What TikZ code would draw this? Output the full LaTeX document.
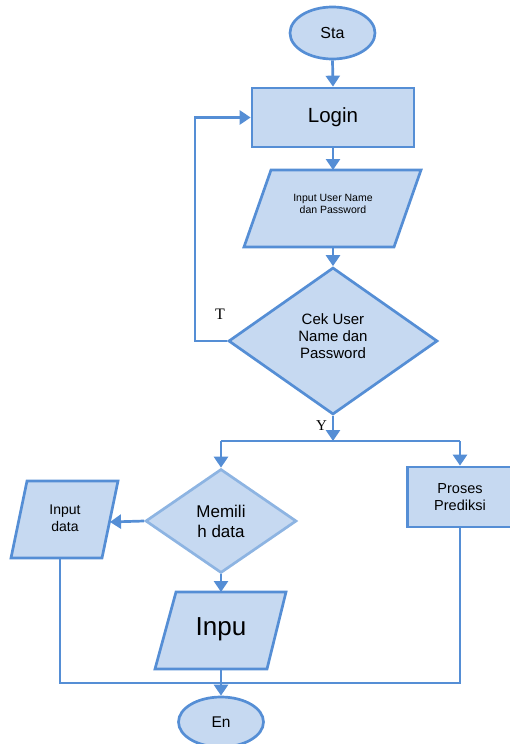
\documentclass[tikz,border=0pt]{standalone}
\usepackage{fontspec}
\setmainfont{Liberation Sans}
\newfontfamily\seriffont{Liberation Serif}
\usetikzlibrary{shapes.geometric,arrows.meta}
\definecolor{edgeblue}{RGB}{85,142,213}
\definecolor{fillblue}{RGB}{198,217,241}
\definecolor{lightedge}{RGB}{141,180,226}
\begin{document}
\begin{tikzpicture}[x=1pt,y=-1pt,
  shapebox/.style={draw=edgeblue,fill=fillblue,line width=2.7pt},
  conn/.style={draw=edgeblue,line width=2.7pt},
  arr/.style={conn,-{Triangle[length=11pt,width=14pt]}},
  txt/.style={align=center,inner sep=0pt,text=black}]
\useasboundingbox (0,0) rectangle (509,744);

% Start
\node[shapebox,ellipse,minimum width=85pt,minimum height=52pt,inner sep=0pt,
  font=\fontsize{16}{19}\selectfont] (sta) at (332.5,33) {Sta};
% Login
\node[shapebox,rectangle,minimum width=162pt,minimum height=59pt,inner sep=0pt,
  font=\fontsize{20.5}{24}\selectfont] (login) at (333,117.5) {Login};
% Input user name parallelogram
\draw[shapebox] (271,170) -- (421,170) -- (394,247) -- (244,247) -- cycle;
\coordinate (pwtop) at (333,170);
\coordinate (pwbot) at (333,247);
\node[txt,font=\fontsize{10.5}{12.5}\selectfont] (pwt) at (333,204) {Input User Name\\dan Password};
% Decision cek
\node[shapebox,diamond,minimum width=209pt,minimum height=147pt,inner sep=0pt] (cek) at (333,341) {};
\node[txt,font=\fontsize{15}{17}\selectfont] (cekt) at (333,336) {Cek User\\Name dan\\Password};
% Memilih data
\node[draw=lightedge,fill=fillblue,line width=2.7pt,diamond,minimum width=151pt,minimum height=104pt,
  inner sep=0pt,align=center,font=\fontsize{17}{20}\selectfont] (mem) at (221,521) {Memili\\h data};
% Proses prediksi
\node[shapebox,rectangle,minimum width=105pt,minimum height=60pt,inner sep=0pt,align=center,
  font=\fontsize{14.5}{16.5}\selectfont] (pro) at (460,497) {Proses\\Prediksi};
% Input data parallelogram
\draw[shapebox] (27,481) -- (118,481) -- (102,558) -- (11,558) -- cycle;
\coordinate (idright) at (110,522);
\coordinate (idbot) at (60,558);
\node[txt,font=\fontsize{14}{17}\selectfont] (idt) at (65,518) {Input\\data};
% Inpu parallelogram
\draw[shapebox] (176,592) -- (286,592) -- (267,669) -- (155,669) -- cycle;
\coordinate (inputop) at (221,592);
\coordinate (inpubot) at (221,669);
\node[txt,font=\fontsize{26}{30}\selectfont] (inpt) at (221,629) {Inpu};
% End
\node[shapebox,ellipse,minimum width=85pt,minimum height=50pt,inner sep=0pt,
  font=\fontsize{15.5}{18}\selectfont] (en) at (221,722) {En};

% Labels
\node[inner sep=0pt,font=\seriffont\fontsize{16}{19}\selectfont] (tl) at (220,314.5) {T};
\node[inner sep=0pt,font=\seriffont\fontsize{15}{18}\selectfont] (yl) at (321.5,425.5) {Y};

% Connectors
\coordinate (loopx) at (195,230);
\coordinate (jn) at (333,441);
\coordinate (jl) at (221,441);
\coordinate (jr) at (460,441);
\coordinate (bl) at (60,683);

\draw[arr] (sta.south) -- (login.north);
\draw[arr] (login.south) -- (pwtop);
\draw[arr] (pwbot) -- (cek.north);
\draw[arr] (cek.west) -| (loopx) |- (login.west);
\draw[arr] (cek.south) -- (jn);
\draw[conn] (jl) -- (jr);
\draw[arr] (jl) -- (mem.north);
\draw[arr] (jr) -- (pro.north);
\draw[arr] (mem.west) -- (idright);
\draw[arr] (mem.south) -- (inputop);
\draw[arr] (inpubot) -- (en.north);
\draw[conn] (idbot) -- (bl) -| (pro.south);
\end{tikzpicture}
\end{document}
